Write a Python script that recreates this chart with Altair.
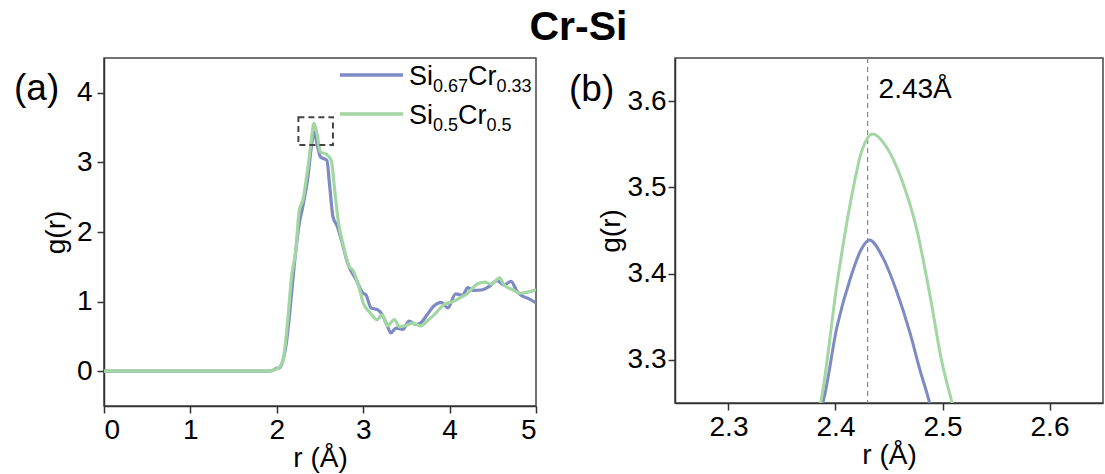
import altair as alt
import pandas as pd

FONT = "Liberation Sans"

# ---------------- data ----------------
series_names = ["Si0.67Cr0.33", "Si0.5Cr0.5"]
series_colors = ["#7d8ac4", "#a2d6a2"]
legend_parts = [("Si", "0.67", "Cr", "0.33"), ("Si", "0.5", "Cr", "0.5")]

# panel (a): full g(r)
r_a_si067 = [0.0, 1.9, 1.95, 1.99, 2.03, 2.07, 2.11, 2.16, 2.2, 2.26, 2.3, 2.36, 2.4, 2.43,
             2.465, 2.505, 2.55, 2.58, 2.61, 2.65, 2.70, 2.76, 2.82, 2.92, 3.0, 3.03, 3.09,
             3.17, 3.22, 3.28, 3.32, 3.38, 3.46, 3.53, 3.61, 3.67, 3.74, 3.82, 3.90, 3.98,
             4.07, 4.15, 4.21, 4.28, 4.38, 4.46, 4.55, 4.63, 4.71, 4.78, 4.84, 4.92, 5.0]
g_a_si067 = [0.0, 0.0, 0.01, 0.04, 0.05, 0.15, 0.4, 0.97, 1.5, 2.12, 2.36, 2.79, 3.22, 3.44,
             3.27, 3.08, 3.05, 3.03, 2.69, 2.22, 2.08, 1.83, 1.55, 1.31, 1.12, 1.10, 0.91,
             0.88, 0.81, 0.65, 0.55, 0.62, 0.60, 0.72, 0.67, 0.70, 0.81, 0.94, 0.99, 0.91,
             1.11, 1.09, 1.20, 1.16, 1.17, 1.22, 1.30, 1.24, 1.29, 1.15, 1.08, 1.04, 0.98]

r_a_si05 = [0.0, 1.9, 1.95, 2.03, 2.07, 2.09, 2.13, 2.17, 2.22, 2.26, 2.3, 2.36, 2.4, 2.43,
            2.465, 2.505, 2.57, 2.63, 2.67, 2.71, 2.775, 2.84, 2.88, 2.96, 3.0, 3.08, 3.16,
            3.22, 3.28, 3.36, 3.42, 3.50, 3.57, 3.67, 3.74, 3.82, 3.94, 4.04, 4.13, 4.21,
            4.27, 4.33, 4.41, 4.48, 4.58, 4.63, 4.73, 4.82, 4.92, 5.0]
g_a_si05 = [0.0, 0.0, 0.01, 0.06, 0.15, 0.3, 0.78, 1.35, 1.74, 2.31, 2.45, 2.93, 3.32, 3.56,
            3.41, 3.15, 3.12, 3.03, 2.6, 2.17, 1.78, 1.50, 1.45, 1.17, 0.98, 0.84, 0.74,
            0.81, 0.65, 0.74, 0.64, 0.66, 0.69, 0.65, 0.72, 0.81, 0.96, 1.0, 1.06, 1.12,
            1.20, 1.26, 1.28, 1.25, 1.34, 1.24, 1.17, 1.12, 1.14, 1.17]

# panel (b): zoom on the first peak
r_b_si067 = [2.385, 2.388, 2.4015, 2.4145, 2.424, 2.4317, 2.4437, 2.4567, 2.4697, 2.479, 2.488, 2.49]
g_b_si067 = [3.24, 3.25, 3.339, 3.397, 3.428, 3.439, 3.42, 3.381, 3.331, 3.288, 3.25, 3.24]

r_b_si05 = [2.384, 2.386, 2.4015, 2.4145, 2.424, 2.435, 2.447, 2.463, 2.476, 2.489, 2.499, 2.509, 2.511]
g_b_si05 = [3.24, 3.25, 3.389, 3.486, 3.54, 3.562, 3.548, 3.505, 3.451, 3.37, 3.30, 3.25, 3.24]

peak_r = 2.43
zoom_r = [2.25, 2.65]
zoom_g = [3.25, 3.65]

# ---------------- helpers ----------------
# approximate advance widths (em) of Liberation Sans glyphs, for chaining legend pieces
ADV = {"S": 0.667, "i": 0.222, "C": 0.722, "r": 0.333, ".": 0.278}


def text_width(s, size):
    return sum(ADV.get(ch, 0.556) for ch in s) * size


def df(rs, gs):
    return pd.DataFrame({"r": rs, "g": gs})


one = pd.DataFrame({"a": [0]})


def lines(data, color, xenc, yenc, width):
    return alt.Chart(data).mark_line(
        color=color, strokeWidth=width, interpolate="monotone", clip=True
    ).encode(x=xenc, y=yenc)


def txt(s, x, y, size, baseline="alphabetic"):
    return alt.Chart(one).mark_text(
        text=s, font=FONT, fontSize=size, align="left", baseline=baseline, color="black"
    ).encode(x=alt.value(x), y=alt.value(y))


# ---------------- panel (a) ----------------
xa = alt.X("r:Q", scale=alt.Scale(domain=[0, 5], nice=False),
           axis=alt.Axis(values=[0, 1, 2, 3, 4, 5], format="d", title="r (Å)"))
ya = alt.Y("g:Q", scale=alt.Scale(domain=[-0.5, 4.5], nice=False, zero=False),
           axis=alt.Axis(values=[0, 1, 2, 3, 4], format="d", title="g(r)"))

box_df = pd.DataFrame({"r": [zoom_r[0]], "r2": [zoom_r[1]], "g": [zoom_g[0]], "g2": [zoom_g[1]]})
box = alt.Chart(box_df).mark_rect(
    fillOpacity=0, stroke="#444444", strokeWidth=2, strokeDash=[6, 4]
).encode(x=xa, x2="r2:Q", y=ya, y2="g2:Q")

MAIN, SUB = 27, 18
legend_layers = []
line_y = [17, 56]
base_y = [27, 66]
for i, parts in enumerate(legend_parts):
    legend_layers.append(
        alt.Chart(one).mark_rule(color=series_colors[i], strokeWidth=3.5).encode(
            x=alt.value(236), x2=alt.value(299), y=alt.value(line_y[i]))
    )
    x = 305
    for j, piece in enumerate(parts):
        size = MAIN if j % 2 == 0 else SUB
        dy = 0 if j % 2 == 0 else 7
        legend_layers.append(txt(piece, x, base_y[i] + dy, size))
        x += text_width(piece, size)

panel_a = alt.layer(
    lines(df(r_a_si067, g_a_si067), series_colors[0], xa, ya, 3.2),
    lines(df(r_a_si05, g_a_si05), series_colors[1], xa, ya, 3.2),
    box,
    *legend_layers,
    txt("(a)", -90, 31, 37, baseline="middle"),
).properties(width=432, height=348)

# ---------------- panel (b) ----------------
xb = alt.X("r:Q", scale=alt.Scale(domain=[2.25, 2.65], nice=False, zero=False),
           axis=alt.Axis(values=[2.3, 2.4, 2.5, 2.6], format=".1f", title="r (Å)"))
yb = alt.Y("g:Q", scale=alt.Scale(domain=[3.25, 3.65], nice=False, zero=False),
           axis=alt.Axis(values=[3.3, 3.4, 3.5, 3.6], format=".1f", title="g(r)",
                         titlePadding=2, labelPadding=2))

peak_df = pd.DataFrame({"r": [peak_r], "lab": [f"{peak_r:.2f}Å"]})
peak_rule = alt.Chart(peak_df).mark_rule(
    color="#888888", strokeWidth=1.2, strokeDash=[5, 4]
).encode(x=xb)
peak_text = alt.Chart(peak_df).mark_text(
    font=FONT, fontSize=28, align="left", baseline="alphabetic", dx=11, color="black"
).encode(x=xb, y=alt.value(40), text="lab:N")

panel_b = alt.layer(
    peak_rule,
    lines(df(r_b_si067, g_b_si067), series_colors[0], xb, yb, 3),
    lines(df(r_b_si05, g_b_si05), series_colors[1], xb, yb, 3),
    peak_text,
    txt("(b)", -106, 32, 37, baseline="middle"),
).properties(width=428, height=345)

chart = alt.hconcat(panel_a, panel_b, spacing=30).properties(
    title=alt.TitleParams("Cr-Si", fontSize=41, fontWeight="bold", font=FONT,
                          anchor="middle", offset=8, dx=20, color="black"),
    padding={"left": 13, "top": 6, "right": 0, "bottom": 0},
).configure_view(
    stroke="#444444", strokeWidth=1.5
).configure_axis(
    labelFont=FONT, titleFont=FONT, labelFontSize=28, titleFontSize=28,
    titleFontWeight="normal", labelColor="black", titleColor="black",
    domainColor="#333333", domainWidth=1.5, tickColor="#333333", tickWidth=1.5,
    tickSize=7, grid=False
).configure_axisX(
    labelPadding=3, titlePadding=0
).configure_axisY(
    labelPadding=5, titlePadding=6
)

chart.save("out.html", embed_options={"renderer": "svg", "actions": False})
